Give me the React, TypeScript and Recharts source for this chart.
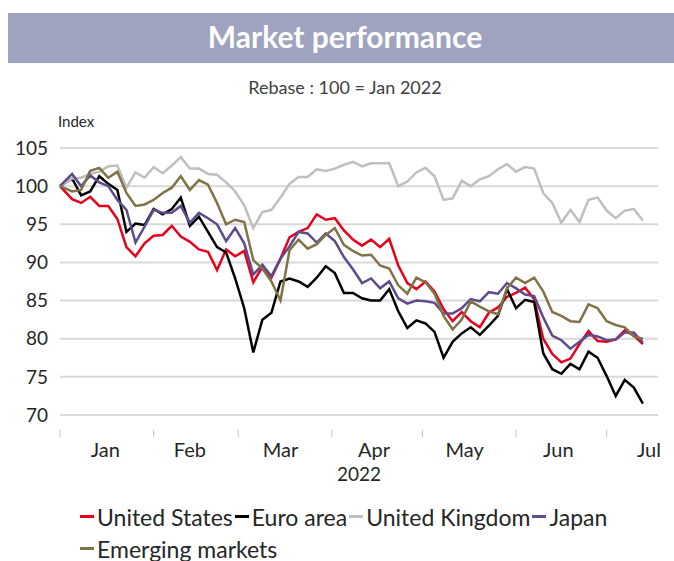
import React from "react"
import { LineChart, Line, XAxis, YAxis, CartesianGrid } from "recharts"

// day offsets from 1 Jan 2022 (roughly every 2 trading days)
const DAYS = [
  0, 4, 7, 10, 13, 16, 19, 22, 25, 28, 31, 34, 37, 40, 43, 46,
  49, 52, 55, 58, 61, 64, 67, 70, 73, 76, 79, 82, 85, 88, 91, 94,
  97, 100, 103, 106, 109, 112, 115, 118, 121, 124, 127, 130, 133, 136, 139, 142,
  145, 148, 151, 154, 157, 160, 163, 166, 169, 172, 175, 178, 181, 184, 187, 190, 193,
]

const UNITED_STATES = [
  100, 98.3, 97.8, 98.6, 97.4, 97.4, 95.7, 92.0, 90.8, 92.5, 93.5, 93.6, 94.8, 93.4, 92.7, 91.7,
  91.4, 89.0, 91.7, 90.8, 91.5, 87.4, 89.4, 88.0, 90.5, 93.3, 94.0, 94.5, 96.3, 95.6, 95.8, 94.2,
  93.0, 92.2, 93.0, 92.0, 93.1, 89.6, 87.3, 86.5, 87.5, 86.2, 83.9, 82.3, 83.5, 82.3, 81.5, 83.4,
  84.1, 85.5, 86.0, 86.7, 85.2, 80.0, 78.0, 76.9, 77.4, 79.3, 81.0, 79.7, 79.6, 79.9, 81.1, 80.4, 79.3,
]

const EURO_AREA = [
  100, 101.0, 98.8, 99.3, 101.3, 100.3, 99.5, 94.0, 95.1, 94.9, 97.0, 96.3, 97.0, 98.5, 94.8, 96.0,
  94.0, 92.0, 91.3, 87.9, 84.0, 78.2, 82.5, 83.4, 87.5, 87.9, 87.5, 86.8, 88.0, 89.5, 88.6, 86.0,
  86.0, 85.3, 85.0, 85.0, 86.5, 83.6, 81.4, 82.4, 82.0, 80.9, 77.5, 79.6, 80.7, 81.5, 80.5, 81.7,
  83.0, 86.5, 84.0, 85.1, 84.8, 78.1, 76.0, 75.4, 76.7, 76.0, 78.3, 77.5, 75.1, 72.5, 74.6, 73.6, 71.5,
]

const UNITED_KINGDOM = [
  100, 101.0, 101.1, 101.6, 101.9, 102.6, 102.7, 99.8, 101.8, 101.1, 102.5, 101.7, 102.7, 103.8, 102.3, 102.3,
  101.6, 101.5, 100.5, 99.3, 97.5, 94.5, 96.6, 96.9, 98.5, 100.3, 101.2, 101.2, 102.2, 102.0, 102.3, 102.8,
  103.2, 102.6, 103.0, 103.0, 103.0, 100.0, 100.6, 101.8, 102.4, 101.3, 98.2, 98.4, 100.7, 100.0, 100.9, 101.3,
  102.2, 102.9, 101.9, 102.5, 102.3, 99.1, 97.8, 95.2, 96.9, 95.3, 98.2, 98.5, 96.8, 95.8, 96.8, 97.0, 95.5,
]

const JAPAN = [
  100, 101.6, 100.0, 101.4, 100.5, 100.0, 98.2, 96.9, 92.6, 94.7, 96.9, 96.5, 96.5, 97.4, 95.2, 96.5,
  95.8, 95.0, 92.8, 94.5, 92.5, 88.4, 89.7, 88.2, 90.5, 92.1, 94.0, 93.8, 92.6, 93.8, 92.8, 90.7,
  89.1, 87.3, 87.9, 86.6, 87.5, 85.3, 84.6, 85.0, 84.9, 84.7, 83.3, 83.3, 84.0, 85.2, 84.9, 86.1,
  85.9, 87.3, 86.6, 85.8, 85.6, 82.8, 80.4, 79.8, 78.7, 79.6, 80.5, 80.3, 79.8, 79.9, 80.8, 80.8, 79.5,
]

const EMERGING_MARKETS = [
  100, 99.3, 99.5, 102.0, 102.4, 101.1, 101.9, 99.1, 97.4, 97.6, 98.2, 99.1, 99.8, 101.3, 99.5, 100.8,
  100.2, 97.8, 95.0, 95.6, 95.3, 90.3, 89.2, 87.5, 85.0, 91.6, 93.0, 91.8, 92.4, 93.6, 94.5, 92.3,
  91.5, 90.9, 91.0, 89.6, 89.2, 87.0, 85.9, 88.0, 87.4, 85.9, 83.0, 81.2, 82.5, 84.9, 84.2, 83.6,
  83.2, 86.6, 88.0, 87.3, 88.0, 86.2, 83.5, 83.0, 82.3, 82.2, 84.5, 84.0, 82.3, 81.8, 81.5, 80.3, 80.0,
]

const Y_TICKS = [70, 75, 80, 85, 90, 95, 100, 105]
const MONTH_NAMES = ["Jan", "Feb", "Mar", "Apr", "May", "Jun", "Jul"]
const MONTH_STARTS = [0, 31, 59, 90, 120, 151, 181]
const MONTH_LABEL_DAYS = [15, 43, 73, 104, 134, 165, 195]

const SERIES = [
  { key: "us", name: "United States", color: "#e8001c", values: UNITED_STATES },
  { key: "euro", name: "Euro area", color: "#000000", values: EURO_AREA },
  { key: "uk", name: "United Kingdom", color: "#bfbfbf", values: UNITED_KINGDOM },
  { key: "japan", name: "Japan", color: "#5f4b8b", values: JAPAN },
  { key: "em", name: "Emerging markets", color: "#7f7347", values: EMERGING_MARKETS },
]

const data = DAYS.map((day, i) => {
  const row: any = { day }
  SERIES.forEach((s) => (row[s.key] = s.values[i]))
  return row
})

const FONT = "Lato, 'Open Sans', sans-serif"
const TEXT = "#262626"

function MonthTick({ x, y, payload }: any) {
  const i = MONTH_LABEL_DAYS.indexOf(payload.value)
  if (i >= 0) {
    return (
      <text x={x} y={y + 42} textAnchor="middle" fontSize={20} fill={TEXT} fontFamily={FONT}>
        {MONTH_NAMES[i]}
      </text>
    )
  }
  return <line x1={x} x2={x} y1={y + 15} y2={y + 22} stroke="#bfbfbf" strokeWidth={1} />
}

export default function App() {
  const ticks = [...MONTH_STARTS, ...MONTH_LABEL_DAYS].sort((a, b) => a - b)
  return (
    <div style={{ position: "absolute", left: 0, top: 0, width: 674, height: 561, background: "#fff", fontFamily: FONT }}>
      <div
        style={{
          position: "absolute", left: 8, top: 13, width: 666, height: 50, background: "#9fa3bf",
          color: "#fff", fontWeight: 700, fontSize: 30, display: "flex", alignItems: "center", justifyContent: "center",
        }}
      >
        <span style={{ marginTop: -4, marginLeft: 8 }}>Market performance</span>
      </div>
      <div style={{ position: "absolute", left: 0, width: 690, top: 76, textAlign: "center", fontSize: 18, color: "#404040" }}>
        Rebase : 100 = Jan 2022
      </div>
      <div style={{ position: "absolute", left: 58, top: 112, fontSize: 15, color: TEXT }}>Index</div>

      <LineChart width={674} height={561} data={data} margin={{ top: 148, right: 16, left: 0, bottom: 0 }}>
        <CartesianGrid vertical={false} stroke="#d9d9d9" strokeWidth={2} />
        <XAxis
          dataKey="day"
          type="number"
          domain={[0, 198]}
          ticks={ticks}
          interval={0}
          height={146}
          axisLine={false}
          tickLine={false}
          tickSize={0}
          tickMargin={0}
          tick={<MonthTick />}
          label={{ value: "2022", position: "insideTop", offset: 53, fontSize: 19, fill: TEXT, fontFamily: FONT }}
        />
        <YAxis
          domain={[70, 105]}
          ticks={Y_TICKS}
          width={60}
          axisLine={false}
          tickLine={false}
          tickSize={0}
          tickMargin={12}
          tick={{ fontSize: 19, fill: TEXT, fontFamily: FONT }}
        />
        {SERIES.map((s) => (
          <Line
            key={s.key}
            dataKey={s.key}
            name={s.name}
            type="linear"
            stroke={s.color}
            strokeWidth={2.5}
            dot={false}
            isAnimationActive={false}
          />
        ))}
      </LineChart>

      <div style={{ position: "absolute", left: 80, top: 502, width: 560, display: "flex", flexWrap: "wrap", rowGap: 3, fontSize: 23, color: TEXT }}>
        {SERIES.map((s) => (
          <div key={s.key} style={{ display: "flex", alignItems: "center", height: 29, marginRight: 2 }}>
            <span style={{ display: "inline-block", width: 14, height: 3, background: s.color, marginRight: 3 }} />
            {s.name}
          </div>
        ))}
      </div>
    </div>
  )
}
